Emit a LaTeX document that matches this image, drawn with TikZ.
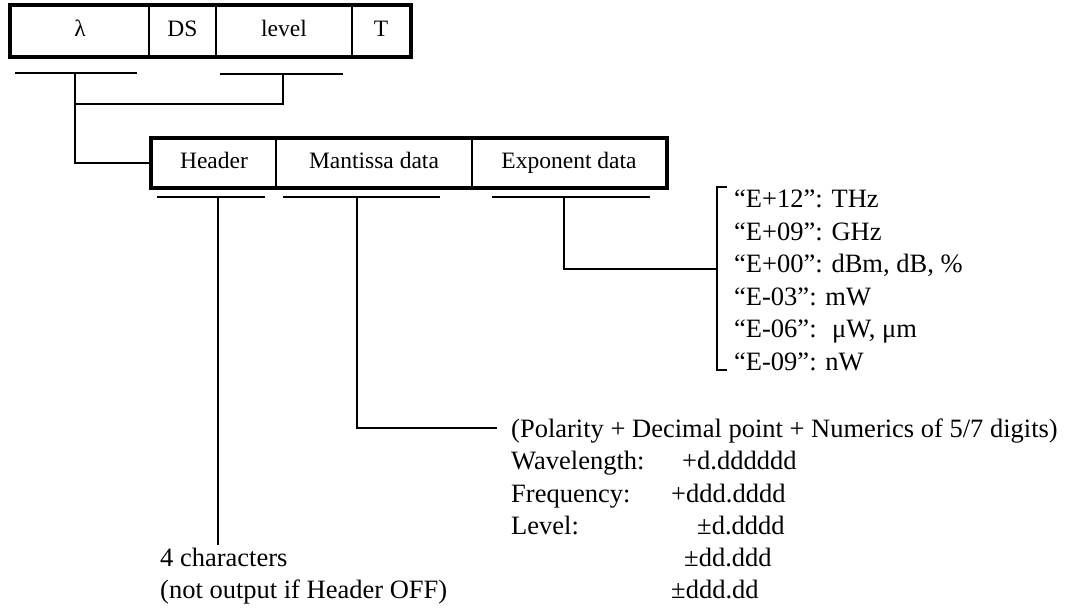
\documentclass[tikz,border=0pt]{standalone}
\usepackage{fontspec}
\setmainfont{Liberation Serif}
\usetikzlibrary{calc}
\newcommand{\drawlink}{\draw[line width=1.4pt]}

\begin{document}
\begin{tikzpicture}[x=1pt,y=-1pt,
    cell/.style={draw,line width=1.2pt,inner sep=0pt,text height=16pt,text depth=5.4pt,font=\fontsize{23.5}{28}\selectfont},
    note/.style={anchor=base west,inner sep=0pt,font=\fontsize{26.5}{32}\selectfont},
    uline/.style={line width=1.8pt}]
    \useasboundingbox (0,0) rectangle (1076,611);

    % Top record
    \node[cell,minimum width=138pt,minimum height=50pt] (lam) at (80,31) {λ};
    \node[cell,minimum width=67pt,minimum height=50pt] (ds) at (182.5,31) {DS};
    \node[cell,minimum width=136pt,minimum height=50pt] (lvl) at (284,31) {level};
    \node[cell,minimum width=58pt,minimum height=50pt] (t) at (381,31) {T};
    \draw[line width=4pt] (lam.north west) rectangle (t.south east);

    % Output record
    \node[cell,minimum width=124pt,minimum height=48pt] (hdr) at (214,163) {Header};
    \node[cell,minimum width=196pt,minimum height=48pt] (man) at (374,163) {Mantissa data};
    \node[cell,minimum width=194pt,minimum height=48pt] (expo) at (569,163) {Exponent data};
    \draw[line width=4pt] (hdr.north west) rectangle (expo.south east);

    % Underlines
    \coordinate (lamA) at (15,73);   \coordinate (lamB) at (137,73);
    \coordinate (lvlA) at (220,74);  \coordinate (lvlB) at (343,74);
    \coordinate (hdrA) at (157,197); \coordinate (hdrB) at (265,197);
    \coordinate (manA) at (283,197); \coordinate (manB) at (440,197);
    \coordinate (expA) at (492,197); \coordinate (expB) at (650,197);
    \foreach \u in {lam,lvl,hdr,man,exp}
        \draw[uline] (\u A) -- (\u B);

    % Links
    \coordinate (lamM) at (75,73);
    \coordinate (lvlM) at (283,74);
    \coordinate (join) at (75,104);
    \coordinate (hdrM) at (218,197);
    \coordinate (hdrEnd) at (218,545);
    \coordinate (manM) at (357,197);
    \coordinate (manEnd) at (497,428);
    \coordinate (expM) at (564,197);
    \coordinate (brTop) at (727,187);
    \coordinate (brBot) at (727,370);
    \coordinate (brMid) at (717,269);

    \drawlink (lamM) |- (hdr.west);
    \drawlink (lvlM) |- (join);
    \drawlink (hdrM) -- (hdrEnd);
    \drawlink (manM) |- (manEnd);
    \drawlink (expM) |- (brMid);
    \drawlink (brTop) -| (brMid) |- (brBot);

    % Exponent values
    \foreach \txt [count=\i from 0] in {{“E+12”: THz},{“E+09”: GHz},{“E+00”: dBm, dB, \%},{“E-03”: mW},{“E-06”:~ μW, μm},{“E-09”: nW}}
        \node[note] (e\i) at (734,207.5+32.5*\i) {\txt};

    % Mantissa formats
    \node[note] (pol) at (511,437) {(Polarity + Decimal point + Numerics of 5/7 digits)};
    \node[note] (wl) at (511,469) {Wavelength:};
    \node[note] (fr) at (511,502) {Frequency:};
    \node[note] (lv) at (511,534) {Level:};
    \node[note] (wlv) at (682,469) {+d.dddddd};
    \node[note] (frv) at (671,502) {+ddd.dddd};
    \node[note] (lv1) at (697,534) {±d.dddd};
    \node[note] (lv2) at (684,566) {±dd.ddd};
    \node[note] (lv3) at (671,598) {±ddd.dd};

    % Header note
    \node[note] (hn1) at (160,566) {4 characters};
    \node[note] (hn2) at (160,598) {(not output if Header OFF)};
\end{tikzpicture}
\end{document}
